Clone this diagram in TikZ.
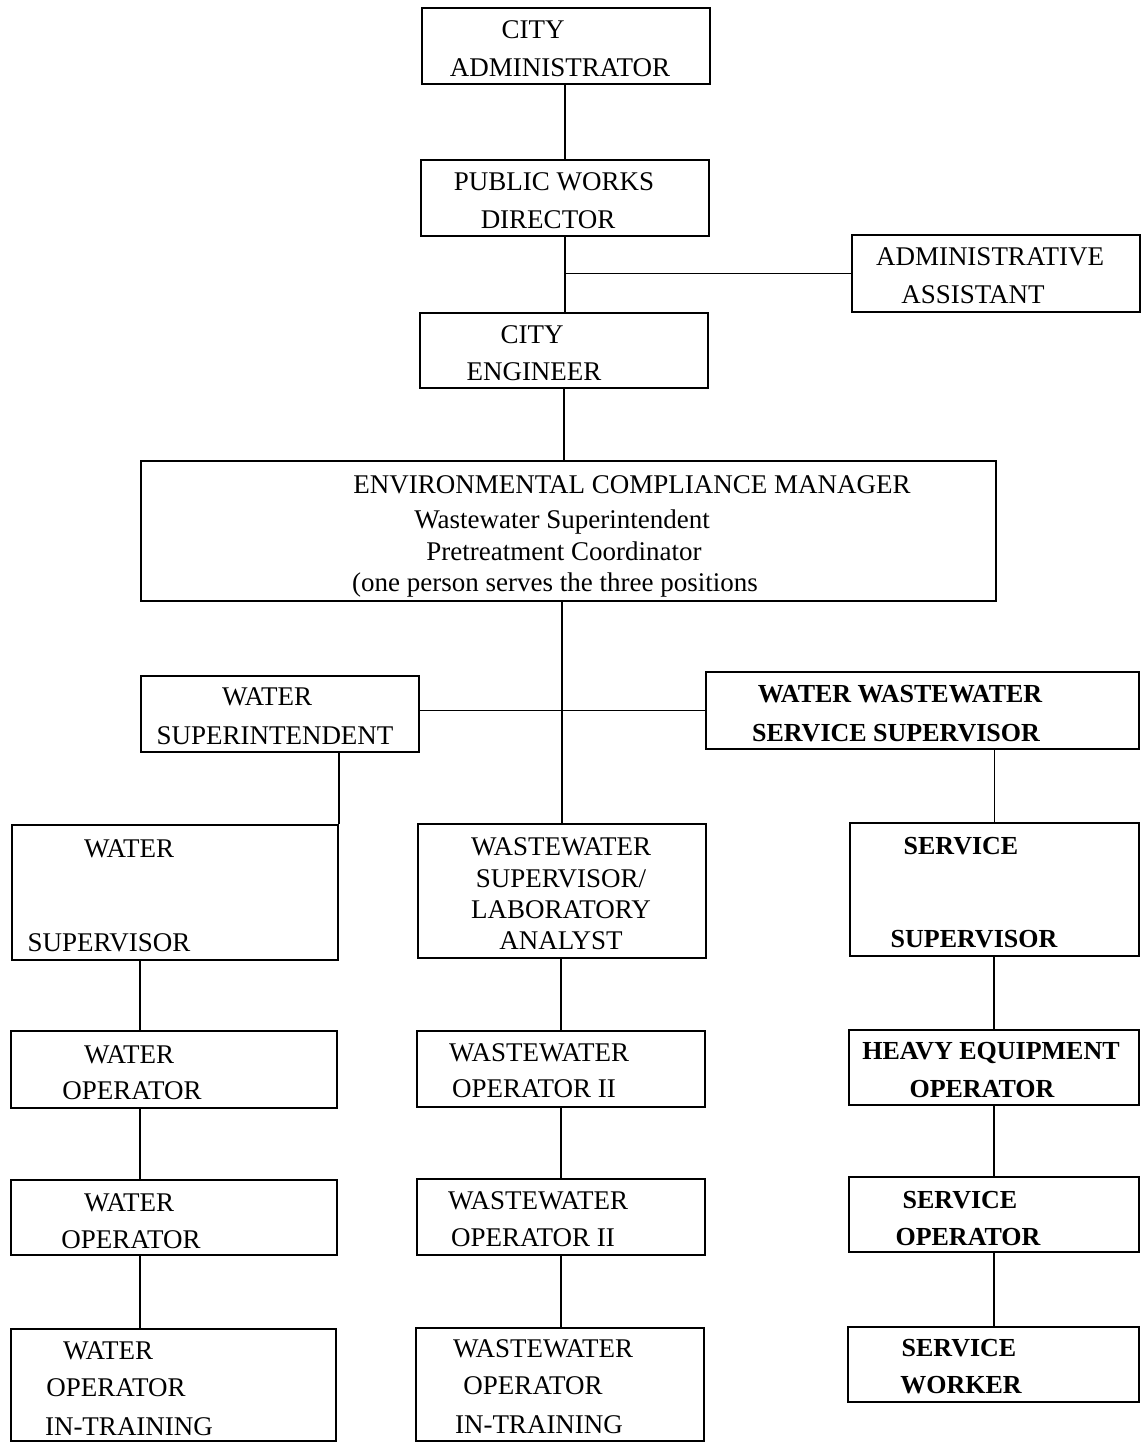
\documentclass[tikz,border=0pt]{standalone}
\usepackage{fontspec}
\setmainfont{Liberation Serif}
\tikzset{
  orgbox/.style={draw, line width=2.4pt, inner sep=0pt},
  lbl/.style={anchor=base, inner sep=0pt, font=\fontsize{27}{30}\selectfont},
  blbl/.style={lbl, font=\fontsize{26}{30}\selectfont\bfseries},
  link/.style={line width=1.5pt}
}
\begin{document}
\begin{tikzpicture}[x=1pt,y=-1pt]
\useasboundingbox (0,0) rectangle (1141,1442);

% boxes
\node[orgbox, minimum width=288, minimum height=76] (cityadmin) at (566,46) {};
\node[orgbox, minimum width=288, minimum height=76] (pwdir) at (565,198) {};
\node[orgbox, minimum width=288, minimum height=77] (asst) at (996,273.5) {};
\node[orgbox, minimum width=288, minimum height=75] (cityeng) at (564,350.5) {};
\node[orgbox, minimum width=855, minimum height=140] (ecm) at (568.5,531) {};
\node[orgbox, minimum width=278, minimum height=76] (wsupt) at (280,714) {};
\node[orgbox, minimum width=433, minimum height=77] (wwss) at (922.5,710.5) {};
\node[orgbox, minimum width=326, minimum height=135] (wsup) at (175,892.5) {};
\node[orgbox, minimum width=288, minimum height=134] (wwsup) at (562,891) {};
\node[orgbox, minimum width=289, minimum height=133] (ssup) at (994.5,889.5) {};
\node[orgbox, minimum width=326, minimum height=77] (wop1) at (174,1069.5) {};
\node[orgbox, minimum width=288, minimum height=76] (wwop1) at (561,1069) {};
\node[orgbox, minimum width=290, minimum height=75] (heavy) at (994,1067.5) {};
\node[orgbox, minimum width=326, minimum height=75] (wop2) at (174,1217.5) {};
\node[orgbox, minimum width=288, minimum height=76] (wwop2) at (561,1217) {};
\node[orgbox, minimum width=290, minimum height=75] (sop) at (994,1214.5) {};
\node[orgbox, minimum width=325, minimum height=112] (wtrain) at (173.5,1385) {};
\node[orgbox, minimum width=288, minimum height=113] (wwtrain) at (560,1384.5) {};
\node[orgbox, minimum width=291, minimum height=75] (sworker) at (993.5,1364.5) {};

% texts
\node[lbl] (cityadmin-a) at (533,39) {CITY};
\node[lbl] (cityadmin-b) at (560,77) {ADMINISTRATOR};
\node[lbl] (pwdir-a) at (554,190) {PUBLIC WORKS};
\node[lbl] (pwdir-b) at (548,228) {DIRECTOR};
\node[lbl] (asst-a) at (990,265) {ADMINISTRATIVE};
\node[lbl] (asst-b) at (973,303) {ASSISTANT};
\node[lbl] (cityeng-a) at (532,343) {CITY};
\node[lbl] (cityeng-b) at (534,380) {ENGINEER};
\node[lbl] (ecm-a) at (632,493) {ENVIRONMENTAL COMPLIANCE MANAGER};
\node[lbl] (ecm-b) at (562,528) {Wastewater Superintendent};
\node[lbl] (ecm-c) at (564,560) {Pretreatment Coordinator};
\node[lbl] (ecm-d) at (555,591) {(one person serves the three positions};
\node[lbl] (wsupt-a) at (267,705) {WATER};
\node[lbl] (wsupt-b) at (275,744) {SUPERINTENDENT};
\node[blbl] (wwss-a) at (900,702) {WATER WASTEWATER};
\node[blbl] (wwss-b) at (896,741) {SERVICE SUPERVISOR};
\node[lbl] (wsup-a) at (129,857) {WATER};
\node[lbl] (wsup-b) at (109,951) {SUPERVISOR};
\node[lbl] (wwsup-a) at (561,855) {WASTEWATER};
\node[lbl] (wwsup-b) at (561,887) {SUPERVISOR/};
\node[lbl] (wwsup-c) at (561,918) {LABORATORY};
\node[lbl] (wwsup-d) at (561,949) {ANALYST};
\node[blbl] (ssup-a) at (961,854) {SERVICE};
\node[blbl] (ssup-b) at (974,947) {SUPERVISOR};
\node[lbl] (wop1-a) at (129,1063) {WATER};
\node[lbl] (wop1-b) at (132,1099) {OPERATOR};
\node[lbl] (wwop1-a) at (539,1061) {WASTEWATER};
\node[lbl] (wwop1-b) at (534,1097) {OPERATOR II};
\node[blbl] (heavy-a) at (991,1059) {HEAVY EQUIPMENT};
\node[blbl] (heavy-b) at (982,1097) {OPERATOR};
\node[lbl] (wop2-a) at (129,1211) {WATER};
\node[lbl] (wop2-b) at (131,1248) {OPERATOR};
\node[lbl] (wwop2-a) at (538,1209) {WASTEWATER};
\node[lbl] (wwop2-b) at (533,1246) {OPERATOR II};
\node[blbl] (sop-a) at (960,1208) {SERVICE};
\node[blbl] (sop-b) at (968,1245) {OPERATOR};
\node[lbl] (wtrain-a) at (108,1359) {WATER};
\node[lbl] (wtrain-b) at (116,1396) {OPERATOR};
\node[lbl] (wtrain-c) at (129,1435) {IN-TRAINING};
\node[lbl] (wwtrain-a) at (543,1357) {WASTEWATER};
\node[lbl] (wwtrain-b) at (533,1394) {OPERATOR};
\node[lbl] (wwtrain-c) at (539,1433) {IN-TRAINING};
\node[blbl] (sworker-a) at (959,1356) {SERVICE};
\node[blbl] (sworker-b) at (961,1393) {WORKER};

% lines
\draw[link] (pwdir.north |- cityadmin.south) -- (pwdir.north);
\draw[link] (pwdir.south) -- (pwdir.south |- cityeng.north);
\draw[link] (pwdir.south |- asst.west) -- (asst.west);
\draw[link] (cityeng.south) -- (cityeng.south |- ecm.north);
\draw[link] (wwsup.north |- ecm.south) -- (wwsup.north);
\draw[link] (wsupt.east |- wwss.west) -- (wwss.west);
\draw[link] (wsup.north east |- wsupt.south) -- (wsup.north east);
\draw[link] (ssup.north |- wwss.south) -- (ssup.north);

\draw[link] ([xshift=-34pt]wop1.north |- wsup.south) -- ([xshift=-34pt]wop1.north);
\draw[link] ([xshift=-34pt]wop1.south) -- ([xshift=-34pt]wop1.south |- wop2.north);
\draw[link] ([xshift=-34pt]wop2.south) -- ([xshift=-34pt]wop2.south |- wtrain.north);
\draw[link] (wwop1.north |- wwsup.south) -- (wwop1.north);
\draw[link] (wwop1.south) -- (wwop1.south |- wwop2.north);
\draw[link] (wwop2.south) -- (wwop2.south |- wwtrain.north);
\draw[link] (heavy.north |- ssup.south) -- (heavy.north);
\draw[link] (heavy.south) -- (heavy.south |- sop.north);
\draw[link] (sop.south) -- (sop.south |- sworker.north);
\end{tikzpicture}
\end{document}
